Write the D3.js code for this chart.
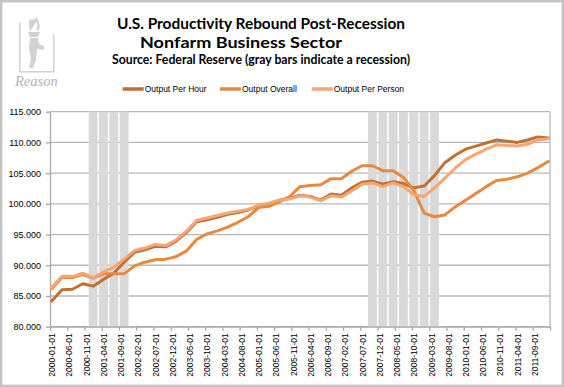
<!DOCTYPE html>
<html>
<head>
<meta charset="utf-8">
<script src="https://cdn.jsdelivr.net/npm/d3@7"></script>
<style>
body { margin: 0; background: #fff; }
svg text { font-family: "Liberation Sans", Arial, sans-serif; }
</style>
</head>
<body>
<svg id="chart" width="564" height="387"></svg>
<script>
// quarterly observations
var quarters = ["2000-01-01","2000-04-01","2000-07-01","2000-10-01","2001-01-01","2001-04-01","2001-07-01","2001-10-01",
  "2002-01-01","2002-04-01","2002-07-01","2002-10-01","2003-01-01","2003-04-01","2003-07-01","2003-10-01",
  "2004-01-01","2004-04-01","2004-07-01","2004-10-01","2005-01-01","2005-04-01","2005-07-01","2005-10-01",
  "2006-01-01","2006-04-01","2006-07-01","2006-10-01","2007-01-01","2007-04-01","2007-07-01","2007-10-01",
  "2008-01-01","2008-04-01","2008-07-01","2008-10-01","2009-01-01","2009-04-01","2009-07-01","2009-10-01",
  "2010-01-01","2010-04-01","2010-07-01","2010-10-01","2011-01-01","2011-04-01","2011-07-01","2011-10-01",
  "2012-01-01"];

var perHour = [84.2, 86.0, 86.1, 87.0, 86.6, 87.7, 88.7, 90.5,
  92.1, 92.5, 93.1, 93.0, 93.9, 95.3, 97.1, 97.4,
  97.8, 98.3, 98.6, 99.0, 99.7, 100.0, 100.6, 100.9,
  101.4, 101.2, 100.6, 101.6, 101.4, 102.6, 103.5, 103.7,
  103.2, 103.6, 103.3, 102.6, 102.9, 104.6, 106.7, 107.9,
  108.9, 109.4, 109.9, 110.4, 110.2, 110.0, 110.4, 110.9,
  110.7];

var overall = [86.2, 88.0, 88.0, 88.5, 87.9, 88.6, 88.6, 88.6,
  89.9, 90.5, 90.9, 91.0, 91.4, 92.3, 94.2, 95.1,
  95.6, 96.2, 97.0, 97.9, 99.4, 99.6, 100.3, 101.2,
  102.8, 103.0, 103.1, 104.1, 104.1, 105.3, 106.2, 106.2,
  105.4, 105.4, 104.3, 102.2, 98.5, 97.9, 98.2, 99.5,
  100.6, 101.7, 102.8, 103.8, 104.0, 104.4, 105.0, 105.9,
  106.9];

var perPerson = [86.4, 88.2, 88.2, 88.7, 88.0, 88.9, 89.7, 91.0,
  92.4, 92.8, 93.4, 93.2, 94.1, 95.5, 97.3, 97.7,
  98.1, 98.5, 98.8, 99.1, 99.8, 100.1, 100.6, 100.8,
  101.3, 101.1, 100.5, 101.3, 101.1, 102.1, 103.2, 103.4,
  102.8, 103.4, 102.8, 101.5, 101.2, 102.6, 104.2, 105.8,
  107.2, 108.1, 108.9, 109.6, 109.5, 109.4, 109.7, 110.4,
  110.6];

var recessionQuarters = ["2001-01-01","2001-04-01","2001-07-01","2001-10-01",
  "2007-10-01","2008-01-01","2008-04-01","2008-07-01","2008-10-01","2009-01-01","2009-04-01"];

var tickLabels = ["2000-01-01","2000-06-01","2000-11-01","2001-04-01","2001-09-01","2002-02-01","2002-07-01",
  "2002-12-01","2003-05-01","2003-10-01","2004-03-01","2004-08-01","2005-01-01","2005-06-01","2005-11-01",
  "2006-04-01","2006-09-01","2007-02-01","2007-07-01","2007-12-01","2008-05-01","2008-10-01","2009-03-01",
  "2009-08-01","2010-01-01","2010-06-01","2010-11-01","2011-04-01","2011-09-01"];

var yTicks = [80, 85, 90, 95, 100, 105, 110, 115];

var seriesNames = ["Output Per Hour", "Output Overall", "Output Per Person"];
var seriesColors = ["#c0702f", "#e8893d", "#f5a673"];

var parse = d3.timeParse("%Y-%m-%d");
function monthIndex(s) {
    var d = parse(s);
    return (d.getFullYear() - 2000) * 12 + d.getMonth();
}

var svg = d3.select("#chart");

var x = d3.scaleLinear().domain([0, 145]).range([50, 550]);
var y = d3.scaleLinear().domain([80, 115]).range([326.7, 111.7]);
var slot = x(1) - x(0);

// chart frame
svg.append("rect")
    .attr("x", 1.2).attr("y", 1.2)
    .attr("width", 561.6).attr("height", 384.6)
    .style("fill", "#fff")
    .style("stroke", "#c4c4c4")
    .style("stroke-width", 2.4);

// Reason logo (rough)
var logo = svg.append("g").style("fill", "#d2d2d2").style("stroke", "none");
logo.append("path")
    .attr("d", "M19,22 L20.5,22 L20.5,71 L55,71 L55,72.5 L19,72.5 Z");
logo.append("path")
    .attr("d", "M53,34 L54.5,34 L54.5,71 L53,71 Z");
logo.append("path")
    .attr("d", "M30,19 C27,24 31,27 29,31 C34,29 33,24 37,22 C38,26 35,29 38,31 C41,27 40,22 36,17 C35,20 33,20 30,19 Z");
logo.append("path")
    .attr("d", "M28,32 L40,32 L38,37 L30,37 Z");
logo.append("path")
    .attr("d", "M30,38 L38,38 L39,44 L44,46 L44,50 L37,49 L36,60 L33,68 L29,68 L31,58 L29,48 Z");
svg.append("text")
    .attr("x", 15).attr("y", 86)
    .style("font-family", "'Liberation Serif', serif")
    .style("font-style", "italic")
    .style("font-size", "14.5px")
    .style("fill", "#b3b3b3")
    .text("Reason");

// titles
var titles = [
    {t: "U.S. Productivity Rebound Post-Recession", x: 117, y: 29, len: 288, size: 15},
    {t: "Nonfarm Business Sector", x: 140, y: 47.5, len: 202, size: 15},
    {t: "Source: Federal Reserve (gray bars indicate a recession)", x: 112, y: 64, len: 298, size: 13}
];
svg.selectAll(".title")
    .data(titles)
  .enter().append("text")
    .attr("class", "title")
    .attr("x", function(d) { return d.x; })
    .attr("y", function(d) { return d.y; })
    .attr("textLength", function(d) { return d.len; })
    .attr("lengthAdjust", "spacingAndGlyphs")
    .style("font-family", "Lato, 'Open Sans', sans-serif")
    .style("font-weight", "bold")
    .style("font-size", function(d) { return d.size + "px"; })
    .style("fill", "#000")
    .text(function(d) { return d.t; });

// legend
var legendX = [122.7, 220, 311.7];
var legend = svg.selectAll(".legend")
    .data(seriesNames)
  .enter().append("g")
    .attr("class", "legend")
    .attr("transform", function(d, i) { return "translate(" + legendX[i] + ",89)"; });
legend.append("line")
    .attr("x1", 0).attr("x2", 21)
    .style("stroke", function(d, i) { return seriesColors[i]; })
    .style("stroke-width", 3.5);
legend.append("text")
    .attr("x", 22).attr("y", 3)
    .style("font-size", "8.5px")
    .style("fill", "#000")
    .text(function(d) { return d; });

// gridlines
svg.selectAll(".grid")
    .data(yTicks)
  .enter().append("line")
    .attr("class", "grid")
    .attr("x1", 50).attr("x2", 550)
    .attr("y1", function(d) { return y(d); })
    .attr("y2", function(d) { return y(d); })
    .style("stroke", "#b8b8b8")
    .style("stroke-width", 1.3);

svg.append("line")
    .attr("x1", 550).attr("x2", 550)
    .attr("y1", y(115)).attr("y2", y(80))
    .style("stroke", "#b8b8b8")
    .style("stroke-width", 1.3);

// recession bars
var barW = slot * 3 * 0.86;
svg.selectAll(".rec")
    .data(recessionQuarters)
  .enter().append("rect")
    .attr("class", "rec")
    .attr("x", function(d) { return x(monthIndex(d) + 0.5) - barW / 2; })
    .attr("y", y(115))
    .attr("width", barW)
    .attr("height", y(80) - y(115))
    .style("fill", "#d9d9d9");

// axes
var yAxis = d3.axisLeft(y)
    .tickValues(yTicks)
    .tickFormat(d3.format(".3f"))
    .tickSize(4)
    .tickSizeOuter(0)
    .tickPadding(5);
var gy = svg.append("g")
    .attr("transform", "translate(50,0)")
    .call(yAxis);
gy.selectAll("text").style("font-size", "9px").style("fill", "#000");

var xAxis = d3.axisBottom(x)
    .tickValues(tickLabels.map(monthIndex).concat([145]))
    .tickFormat(function(d, i) { return tickLabels[i] || ""; })
    .tickSize(4)
    .tickSizeOuter(0);
var gx = svg.append("g")
    .attr("transform", "translate(0," + y(80) + ")")
    .call(xAxis);
gx.selectAll("text")
    .attr("transform", "rotate(-90)")
    .attr("x", -6.5)
    .attr("y", slot / 2)
    .attr("dy", "0.35em")
    .style("text-anchor", "end")
    .style("font-size", "8.5px")
    .style("fill", "#000");

svg.selectAll(".domain, .tick line")
    .style("stroke", "#a8a8a8")
    .style("stroke-width", 1.3);

// series lines
var line = d3.line()
    .x(function(d, i) { return x(monthIndex(quarters[i]) + 0.5); })
    .y(function(d) { return y(d); });

var series = [perHour, overall, perPerson];
svg.selectAll(".series")
    .data(series)
  .enter().append("path")
    .attr("class", "series")
    .attr("d", line)
    .style("fill", "none")
    .style("stroke", function(d, i) { return seriesColors[i]; })
    .style("stroke-width", 3)
    .style("stroke-linejoin", "round")
    .style("stroke-linecap", "round");
</script>
</body>
</html>
